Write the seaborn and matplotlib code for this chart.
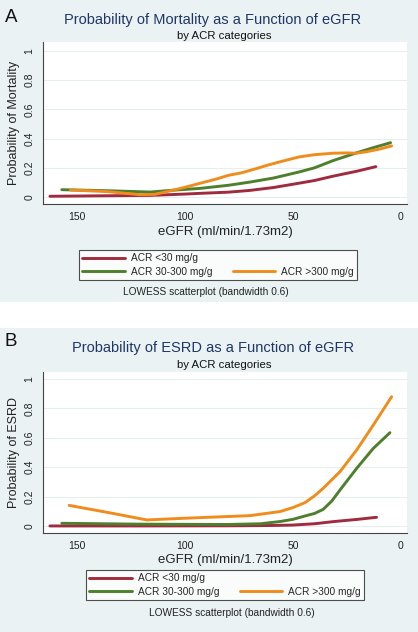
"""Probability of mortality / ESRD vs eGFR by ACR category (LOWESS curves)"""

import pandas as pd
import numpy as np
import matplotlib
matplotlib.use('Agg')
import matplotlib.pyplot as plt
from matplotlib.lines import Line2D
from matplotlib.patches import Rectangle
import seaborn as sns

sns.set_style('white')
plt.rcParams['font.family'] = ['Liberation Sans', 'DejaVu Sans']

categories = ['ACR <30 mg/g', 'ACR 30-300 mg/g', 'ACR >300 mg/g']
colors = ['#A12B3E', '#4E7F2C', '#F08C1C']
y_ticks = [0, 0.2, 0.4, 0.6, 0.8, 1]
y_tick_labels = ['0', '0.2', '0.4', '0.6', '0.8', '1']
x_ticks = [150, 100, 50, 0]

# panel A: mortality
mort_lt30_egfr = [162.5, 140, 116, 100, 93, 80, 70, 59, 47, 40, 31.3, 20, 11.6]
mort_lt30_prob = [0.005, 0.008, 0.011, 0.02, 0.025, 0.033, 0.045, 0.065, 0.095, 0.113, 0.143, 0.178, 0.208]
mort_mid_egfr = [157, 136, 116, 105, 93, 80, 70, 59, 47, 40, 31.3, 20, 12.8, 4.8]
mort_mid_prob = [0.05, 0.043, 0.034, 0.047, 0.059, 0.08, 0.102, 0.13, 0.172, 0.2, 0.25, 0.305, 0.338, 0.372]
mort_gt300_egfr = [153, 136, 121, 114, 105, 98, 93, 85, 80, 74, 68, 62, 55, 47, 40, 31.3, 25, 20.5, 16, 10, 4.3]
mort_gt300_prob = [0.048, 0.037, 0.016, 0.018, 0.048, 0.074, 0.094, 0.125, 0.148, 0.165, 0.19, 0.217, 0.245,
                   0.275, 0.29, 0.3, 0.302, 0.3, 0.31, 0.328, 0.35]

# panel B: ESRD
esrd_lt30_egfr = [162.5, 120, 80, 60, 50, 40, 31, 20, 11.3]
esrd_lt30_prob = [0, 0, 0.001, 0.003, 0.006, 0.015, 0.03, 0.045, 0.059]
esrd_mid_egfr = [157, 120, 80, 65, 56, 50, 44.4, 40, 36, 32, 28.2, 20.5, 12.8, 5.1]
esrd_mid_prob = [0.018, 0.012, 0.01, 0.015, 0.03, 0.045, 0.068, 0.085, 0.113, 0.17, 0.245, 0.392, 0.528, 0.635]
esrd_gt300_egfr = [153.6, 135, 117.7, 100.8, 82.3, 70, 56, 50, 44.4, 40, 36, 28.2, 20.5, 12.8, 4.3]
esrd_gt300_prob = [0.14, 0.09, 0.041, 0.052, 0.063, 0.07, 0.098, 0.125, 0.159, 0.205, 0.256, 0.37, 0.517,
                   0.687, 0.88]


def make_frame(series):
    rows = []
    for cat, (xs, ys) in zip(categories, series):
        rows.append(pd.DataFrame({'eGFR': xs, 'prob': ys, 'ACR': cat}))
    return pd.concat(rows, ignore_index=True)


df_mort = make_frame([(mort_lt30_egfr, mort_lt30_prob), (mort_mid_egfr, mort_mid_prob),
                      (mort_gt300_egfr, mort_gt300_prob)])
df_esrd = make_frame([(esrd_lt30_egfr, esrd_lt30_prob), (esrd_mid_egfr, esrd_mid_prob),
                      (esrd_gt300_egfr, esrd_gt300_prob)])

W, H = 418, 632
BG = '#EAF2F3'
TITLE_COLOR = '#1F3668'
AXIS_COLOR = '#444444'


def fy(px):
    return 1 - px / H


def fx(px):
    return px / W


fig = plt.figure(figsize=(W / 100, H / 100), dpi=100, facecolor='white')
fig.patches.append(Rectangle((0, fy(302)), 1, 302 / H, transform=fig.transFigure,
                             facecolor=BG, edgecolor='none', zorder=-10))
fig.patches.append(Rectangle((0, 0), 1, fy(328), transform=fig.transFigure,
                             facecolor=BG, edgecolor='none', zorder=-10))

panels = [
    dict(df=df_mort, top=42, bottom=204, ylim=(-0.048, 1.062), letter='A', letter_y=17,
         title='Probability of Mortality as a Function of eGFR', title_y=20, sub_y=36,
         ylabel='Probability of Mortality', xlabel_y=232, leg_xy=(218, 265), note_xy=(206, 292)),
    dict(df=df_esrd, top=372, bottom=533, ylim=(-0.048, 1.048), letter='B', letter_y=342,
         title='Probability of ESRD as a Function of eGFR', title_y=348, sub_y=365,
         ylabel='Probability of ESRD', xlabel_y=560, leg_xy=(225, 585), note_xy=(232, 613)),
]

for p in panels:
    ax = fig.add_axes([fx(43), fy(p['bottom']), fx(407) - fx(43), (p['bottom'] - p['top']) / H])
    ax.set_facecolor('white')
    sns.lineplot(data=p['df'], x='eGFR', y='prob', hue='ACR', palette=colors,
                 hue_order=categories, estimator=None, linewidth=2.1, legend=False, ax=ax)
    ax.set_xlim(165.7, -2.8)
    ax.set_ylim(*p['ylim'])
    ax.set_yticks(y_ticks)
    ax.set_yticklabels(y_tick_labels, rotation=90, va='center')
    ax.set_xticks(x_ticks)
    ax.set_xticklabels([str(t) for t in x_ticks])
    for y in y_ticks:
        ax.axhline(y, color='#E6EEF0', linewidth=0.8, zorder=0)
    for side in ['top', 'right']:
        ax.spines[side].set_visible(False)
    for side in ['left', 'bottom']:
        ax.spines[side].set_color(AXIS_COLOR)
        ax.spines[side].set_linewidth(0.8)
    ax.tick_params(axis='both', direction='out', length=4, width=0.8, color=AXIS_COLOR,
                   labelsize=7.5, labelcolor='#222222', pad=2)
    ax.set_xlabel('')
    ax.set_ylabel(p['ylabel'], fontsize=9, color='#222222', labelpad=3)

    fig.text(fx(5), fy(p['letter_y']), p['letter'], fontsize=13.5, color='#111111', va='center', ha='left')
    fig.text(fx(213), fy(p['title_y']), p['title'], fontsize=10.5, color=TITLE_COLOR, ha='center', va='center')
    fig.text(fx(224), fy(p['sub_y']), 'by ACR categories', fontsize=8.2, color='#111111', ha='center', va='center')
    fig.text(fx(225), fy(p['xlabel_y']), 'eGFR (ml/min/1.73m2)', fontsize=9.5, color='#222222',
             ha='center', va='center')
    fig.text(fx(p['note_xy'][0]), fy(p['note_xy'][1]), 'LOWESS scatterplot (bandwidth 0.6)', fontsize=7.3,
             color='#222222', ha='center', va='center')

    handles = [Line2D([], [], color=c, linewidth=2.1) for c in colors]
    blank = Line2D([], [], color='none')
    leg_handles = [handles[0], handles[1], blank, handles[2]]
    leg_labels = [categories[0], categories[1], '', categories[2]]
    leg = fig.legend(leg_handles, leg_labels, ncol=2, loc='center',
                     bbox_to_anchor=(fx(p['leg_xy'][0]), fy(p['leg_xy'][1])),
                     fontsize=7.3, frameon=True, fancybox=False, handlelength=4.2,
                     handletextpad=0.6, columnspacing=2.0, borderpad=0.35, labelspacing=0.35)
    leg.get_frame().set_edgecolor('#222222')
    leg.get_frame().set_linewidth(0.8)
    leg.get_frame().set_facecolor('white')

fig.savefig('out.png', dpi=100, facecolor=fig.get_facecolor())
